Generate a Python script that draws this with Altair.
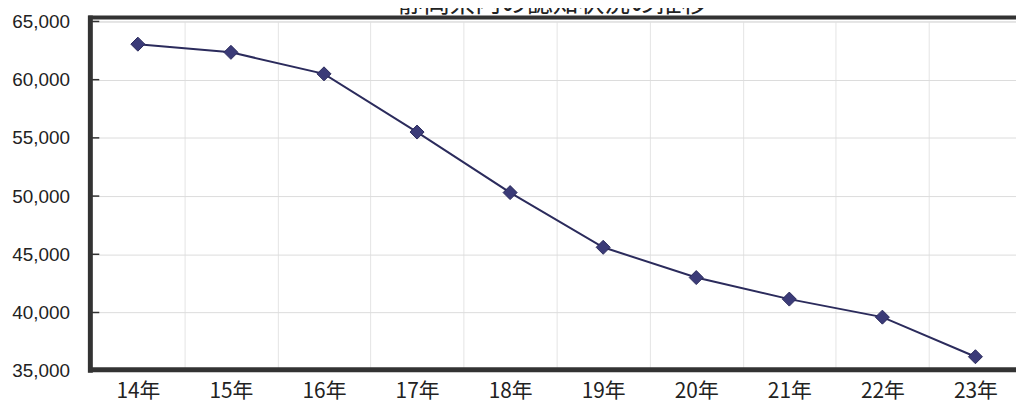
import altair as alt
import pandas as pd

title_text = "静岡県内の認知状況の推移"
years = ["14年", "15年", "16年", "17年", "18年", "19年", "20年", "21年", "22年", "23年"]
counts = [63050, 62350, 60500, 55500, 50300, 45600, 43000, 41150, 39600, 36200]
y_ticks = [35000, 40000, 45000, 50000, 55000, 60000, 65000]

W = 932
H = 352
df = pd.DataFrame({"year": years, "count": counts})
ticks_df = pd.DataFrame({"v": y_ticks})

yscale = alt.Scale(domain=[35000, 65000], nice=False, zero=False)
yaxis = alt.Axis(values=y_ticks, format=",.0f", labelFont="Liberation Sans",
                 labelFontSize=19, labelColor="#222", labelPadding=22,
                 ticks=False, domain=False, grid=True, gridColor="#dcdcdc")

xenc = alt.X(
    "year:N", sort=years, bandPosition=0.5, title=None,
    scale=alt.Scale(type="band", paddingInner=0, paddingOuter=0, range=[0, 938]),
    axis=alt.Axis(labelAngle=0, labelFont="Noto Sans CJK JP", labelFontSize=21,
                  labelColor="#222", labelPadding=10, ticks=False, domain=False,
                  grid=True, gridColor="#e4e4e4", tickBand="extent"),
)
yenc = alt.Y("count:Q", title=None, scale=yscale, axis=yaxis)

base = alt.Chart(df)
line = base.mark_line(color="#2b2b5c", strokeWidth=2).encode(x=xenc, y=yenc)
pts = base.mark_point(shape="diamond", filled=True, size=200, color="#3b3b78",
                      stroke="#2b2b5c", strokeWidth=1, opacity=1).encode(x=xenc, y=yenc)

tick_marks = alt.Chart(ticks_df).mark_rule(color="#333", strokeWidth=1.5).encode(
    x=alt.value(0), x2=alt.value(8), y=alt.Y("v:Q", title=None, scale=yscale, axis=yaxis)
)

frame_data = alt.Data(values=[{"a": 1}])
left_border = alt.Chart(frame_data).mark_rule(color="#333", strokeWidth=5).encode(
    x=alt.value(-1), y=alt.value(-6), y2=alt.value(H + 2)
)
top_border = alt.Chart(frame_data).mark_rule(color="#333", strokeWidth=4).encode(
    x=alt.value(-3), x2=alt.value(W), y=alt.value(-4)
)
bottom_border = alt.Chart(frame_data).mark_rule(color="#333", strokeWidth=5).encode(
    x=alt.value(-3), x2=alt.value(W), y=alt.value(H - 1)
)
title = alt.Chart(alt.Data(values=[{"t": title_text}])).mark_text(
    font="Noto Sans CJK JP", fontSize=26, color="#222", baseline="bottom", align="center"
).encode(x=alt.value(465), y=alt.value(-5), text="t:N")

chart = alt.layer(
    line, pts, tick_marks, left_border, top_border, bottom_border, title
).properties(
    width=W, height=H,
    autosize=alt.AutoSizeParams(type="none"),
    padding={"left": 84, "top": 12, "right": 0, "bottom": 32},
).configure_view(stroke=None).configure(background="white")

chart.save("out.html", embed_options={"renderer": "svg", "actions": False})
